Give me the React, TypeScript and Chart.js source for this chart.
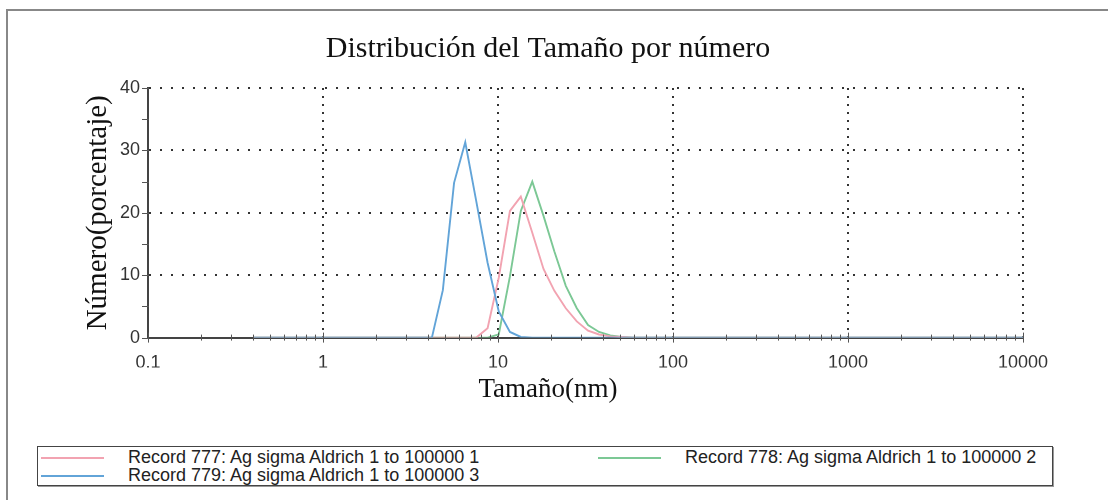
import React, { useEffect, useRef } from "react";
import { Chart, registerables } from "chart.js";

Chart.register(...registerables);

// ---- data ----
const sizesNm = [0.4, 3.62, 4.19, 4.84, 5.61, 6.5, 7.52, 8.72, 10.1, 11.7, 13.5, 15.7, 18.2, 21.0, 24.4, 28.2, 32.7, 37.8, 43.8, 50.7, 58.8, 68.1, 10000];
const record777 = [0, 0, 0, 0, 0, 0, 0, 1.5, 9.6, 20.3, 22.6, 16.8, 11.0, 7.5, 4.7, 2.6, 1.1, 0.5, 0.2, 0.1, 0, 0, 0];
const record778 = [0, 0, 0, 0, 0, 0, 0, 0, 0.5, 9.8, 20.3, 25.0, 19.5, 13.8, 8.3, 4.7, 2.0, 0.9, 0.35, 0.1, 0, 0, 0];
const record779 = [0, 0, 0, 7.6, 24.8, 31.3, 21.8, 12.0, 4.2, 0.9, 0.1, 0, 0, 0, 0, 0, 0, 0, 0, 0, 0, 0, 0];

const seriesNames = [
  "Record 777: Ag sigma Aldrich 1 to 100000 1",
  "Record 778: Ag sigma Aldrich 1 to 100000 2",
  "Record 779: Ag sigma Aldrich 1 to 100000 3",
];
const seriesColors = ["#f2a3b1", "#7cc895", "#62a4d8"];

const xTickValues = [0.1, 1, 10, 100, 1000, 10000];
const xTickLabels = ["0.1", "1", "10", "100", "1000", "10000"];
const xMinorMultipliers = [2, 3, 4, 5, 6, 7, 8, 9];
const yMinorValues = [5, 15, 25, 35];

const chartTitle = "Distribución del Tamaño por número";
const xTitle = "Tamaño(nm)";
const yTitle = "Número(porcentaje)";

const W = 1078;
const H = 410;

const toPoints = (vals: number[]) => sizesNm.map((s, i) => ({ x: s, y: vals[i] }));

const axisTicksPlugin = {
  id: "axisTicks",
  afterDraw(chart: any) {
    const { ctx, chartArea } = chart;
    const x = chart.scales.x;
    const y = chart.scales.y;
    ctx.save();
    ctx.strokeStyle = "#555";
    ctx.lineWidth = 1;
    ctx.beginPath();
    const b = chartArea.bottom;
    for (let d = 0; d < xTickValues.length; d++) {
      const px = Math.round(x.getPixelForValue(xTickValues[d])) + 0.5;
      ctx.moveTo(px, b - 5);
      ctx.lineTo(px, b + 5);
      if (d < xTickValues.length - 1) {
        for (const m of xMinorMultipliers) {
          const mx = Math.round(x.getPixelForValue(xTickValues[d] * m)) + 0.5;
          ctx.moveTo(mx, b - 3);
          ctx.lineTo(mx, b + 3);
        }
      }
    }
    const l = chartArea.left;
    const yVals = [0, 10, 20, 30, 40, ...yMinorValues];
    for (const v of yVals) {
      const py = Math.round(y.getPixelForValue(v)) + 0.5;
      ctx.moveTo(l - 6, py);
      ctx.lineTo(l + 1, py);
    }
    ctx.stroke();
    ctx.restore();
  },
};

function ChartCanvas() {
  const ref = useRef<HTMLCanvasElement | null>(null);
  useEffect(() => {
    if (!ref.current) return;
    const datasets = [record777, record778, record779].map((vals, i) => ({
      label: seriesNames[i],
      data: toPoints(vals),
      borderColor: seriesColors[i],
      backgroundColor: seriesColors[i],
      borderWidth: 1.9,
      pointRadius: 0,
      tension: 0,
      order: i === 2 ? 0 : i + 1,
    }));
    const chart = new Chart(ref.current, {
      type: "line",
      data: { datasets },
      plugins: [axisTicksPlugin],
      options: {
        animation: false,
        responsive: false,
        devicePixelRatio: 1,
        layout: { padding: 0 },
        plugins: {
          legend: { display: false },
          tooltip: { enabled: false },
          title: {
            display: true,
            text: chartTitle,
            color: "#111",
            font: { family: "'Liberation Serif', 'Times New Roman', serif", size: 30, weight: "normal" },
            padding: { top: 19, bottom: 21 },
          },
          subtitle: {
            display: true,
            position: "bottom",
            text: xTitle,
            color: "#111",
            font: { family: "'Liberation Serif', 'Times New Roman', serif", size: 27, weight: "normal" },
            padding: { top: 6, bottom: 16 },
          },
        },
        scales: {
          x: {
            type: "logarithmic",
            position: "bottom",
            min: 0.1,
            max: 10000,
            afterBuildTicks: (s: any) => {
              s.ticks = xTickValues.map((v) => ({ value: v }));
            },
            afterFit: (s: any) => {
              s.height = 30;
              s.paddingLeft = 0;
              s.paddingRight = 64;
            },
            ticks: {
              autoSkip: false,
              maxRotation: 0,
              padding: 15,
              color: "#333",
              font: { family: "'Liberation Sans', Arial, sans-serif", size: 18 },
              callback: (_v: any, i: number) => xTickLabels[i],
            },
            grid: { color: "#333", lineWidth: 2, drawTicks: false },
            border: { display: true, color: "#444", width: 2, dash: [2, 6] },
          },
          y: {
            type: "linear",
            min: 0,
            max: 40,
            afterFit: (s: any) => {
              s.width = 139;
              s.paddingTop = 0;
              s.paddingBottom = 0;
            },
            ticks: {
              stepSize: 10,
              padding: 8,
              color: "#333",
              font: { family: "'Liberation Sans', Arial, sans-serif", size: 18 },
            },
            grid: { color: "#333", lineWidth: 2, drawTicks: false },
            border: { display: true, color: "#444", width: 2, dash: [2, 9] },
            title: {
              display: true,
              text: yTitle,
              color: "#111",
              font: { family: "'Liberation Serif', 'Times New Roman', serif", size: 29, weight: "normal" },
              padding: { top: 72, bottom: 0 },
            },
          },
        },
      },
    } as any);
    return () => chart.destroy();
  }, []);
  return <canvas ref={ref} width={W} height={H} style={{ position: "absolute", left: 9, top: 12, width: W, height: H }} />;
}

export default function App() {
  const legendText: React.CSSProperties = {
    fontFamily: "'Liberation Sans', Arial, sans-serif",
    fontSize: 18,
    color: "#222",
    lineHeight: "20px",
    whiteSpace: "nowrap",
  };
  const swatch = (c: string): React.CSSProperties => ({
    display: "inline-block",
    width: 63,
    height: 0,
    borderTop: `2px solid ${c}`,
    verticalAlign: "middle",
    marginRight: 24,
  });
  return (
    <div style={{ position: "fixed", left: 0, top: 0, width: 1108, height: 500, background: "#fff", overflow: "hidden" }}>
      <div
        style={{
          position: "absolute",
          left: 6,
          top: 9,
          width: 1200,
          height: 600,
          borderLeft: "2px solid #888",
          borderTop: "2px solid #888",
        }}
      />
      <ChartCanvas />
      <div
        style={{
          position: "absolute",
          left: 37,
          top: 446,
          width: 1014,
          height: 38,
          border: "1px solid #444",
          boxShadow: "1px 1px 0 #999",
          background: "#fff",
        }}
      >
        <div style={{ position: "absolute", left: 3, top: 0, ...legendText }}>
          <span style={swatch(seriesColors[0])} />
          {seriesNames[0]}
        </div>
        <div style={{ position: "absolute", left: 3, top: 18, ...legendText }}>
          <span style={swatch(seriesColors[2])} />
          {seriesNames[2]}
        </div>
        <div style={{ position: "absolute", left: 560, top: 0, ...legendText }}>
          <span style={swatch(seriesColors[1])} />
          {seriesNames[1]}
        </div>
      </div>
    </div>
  );
}
